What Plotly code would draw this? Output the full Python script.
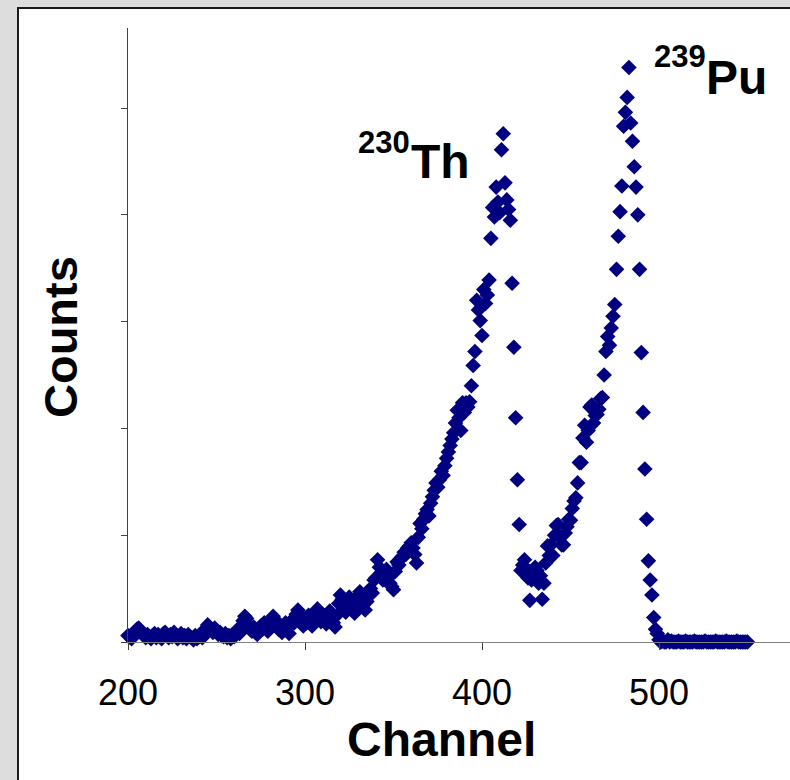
import plotly.graph_objects as go

# ---------------- data ----------------
channel_start = 200
counts = [
    6, 5, 3, 8, 10, 12, 13, 11, 9, 6,            # 200-209
    4, 7, 5, 3, 6, 8, 4, 7, 5, 3,                # 210-219
    8, 9, 6, 4, 7, 5, 9, 6, 3, 5,                # 220-229
    8, 4, 6, 3, 7, 5, 4, 2, 6, 3,                # 230-239
    5, 8, 4, 7, 12, 16, 14, 11, 9, 13,           # 240-249
    10, 7, 9, 6, 5, 8, 4, 6, 3, 7,               # 250-259
    5, 9, 12, 8, 15, 20, 24, 22, 16, 12,         # 260-269
    10, 14, 9, 7, 11, 15, 12, 18, 14, 10,        # 270-279
    16, 20, 24, 21, 17, 12, 15, 9, 13, 18,       # 280-289
    14, 8, 16, 21, 18, 26, 30, 24, 19, 15,       # 290-299
    22, 18, 25, 20, 15, 23, 28, 31, 24, 19,      # 300-309
    26, 21, 17, 24, 29, 22, 18, 14, 25, 36,      # 310-319
    44, 40, 33, 28, 35, 42, 38, 31, 27, 36,      # 320-329
    43, 47, 40, 35, 30, 38, 44, 50, 46, 58,      # 330-339
    60, 77, 70, 65, 58, 62, 68, 60, 55, 52,      # 340-349
    49, 66, 75, 72, 78, 80, 84, 82, 88, 90,      # 350-359
    93, 88, 82, 74, 98, 111, 106, 115, 120, 124, # 360-369
    118, 130, 136, 142, 149, 145, 152, 160, 156, 165,  # 370-379
    172, 178, 184, 190, 196, 205, 217, 210, 198, 224,  # 380-389
    215, 224, 220, 225, 240, 259, 272, 320, 311, 301,  # 390-399
    287, 330, 317, 325, 339, 378, 407, 398, 426, 412,  # 400-409
    402, 461, 476, 430, 414, 405, 395, 336, 276, 210,  # 410-419
    152, 110, 67, 72, 77, 67, 60, 39, 58, 64,          # 420-429
    70, 67, 55, 62, 40, 55, 74, 90, 81, 91,            # 430-439
    81, 100, 109, 110, 98, 91, 91, 102, 108, 115,      # 440-449
    114, 125, 132, 135, 149, 168, 168, 191, 203, 187,  # 450-459
    198, 220, 222, 205, 212, 213, 218, 228, 229, 250,  # 460-469
    272, 286, 278, 294, 305, 316, 349, 380, 403, 427,  # 470-479
    483, 496, 510, 538, 486, 469, 445, 426, 400, 349,  # 480-489
    271, 215, 162, 115, 76, 58, 44, 23, 12, 8,         # 490-499
    2, 0, 1, 0, 0, 2, 0, 1, 0, 0,                      # 500-509
    0, 1, 0, 0, 0, 1, 0, 0, 0, 0,                      # 510-519
    1, 0, 0, 0, 0, 0, 1, 0, 0, 0,                      # 520-529
    0, 0, 1, 0, 0, 0, 0, 0, 1, 0,                      # 530-539
    0, 0, 0, 0, 1, 0, 0, 0, 0, 0,                      # 540-549
    0,                                                 # 550
]
channels = list(range(channel_start, channel_start + len(counts)))

x_ticks = [200, 300, 400, 500]
y_ticks = [0, 100, 200, 300, 400, 500]
x_title = "Channel"
y_title = "Counts"
peak_labels = [("230", "Th"), ("239", "Pu")]

# ---------------- layout geometry ----------------
W, H = 790, 780
L, R, T, B = 128, 0, 28, 138
PW, PH = W - L - R, H - T - B


def pp(x, y):
    """pixel -> paper coords"""
    return (x - L) / PW, (H - B - y) / PH


FONT = "Liberation Sans, Arial, sans-serif"

fig = go.Figure(
    go.Scatter(
        x=channels,
        y=counts,
        mode="markers",
        marker=dict(symbol="diamond", size=12, color="#000080", line=dict(width=0)),
        cliponaxis=False,
        hoverinfo="skip",
    )
)

bx0, by0 = pp(18, 8)
bx1, by1 = pp(820, 820)

annotations = []


def ann(text, x, y, size, xanchor="left", angle=0):
    ax, ay = pp(x, y)
    annotations.append(dict(
        text=text, x=ax, y=ay, xref="paper", yref="paper",
        xanchor=xanchor, yanchor="middle", showarrow=False,
        textangle=angle, font=dict(family=FONT, size=size, color="black"),
    ))


ann("<b>%s</b>" % x_title, 441, 739, 48, xanchor="center")
ann("<b>%s</b>" % y_title, 60, 337, 47, xanchor="center", angle=-90)
ann("<b>%s</b>" % peak_labels[0][0], 356, 142, 31)
ann("<b>%s</b>" % peak_labels[0][1], 409, 161, 48)
ann("<b>%s</b>" % peak_labels[1][0], 652, 56, 31)
ann("<b>%s</b>" % peak_labels[1][1], 704, 77, 48)

fig.update_layout(
    width=W, height=H,
    margin=dict(l=L, r=R, t=T, b=B, pad=0),
    paper_bgcolor="#DDDDDD",
    plot_bgcolor="white",
    showlegend=False,
    shapes=[dict(type="rect", xref="paper", yref="paper",
                 x0=bx0, y0=by0, x1=bx1, y1=by1,
                 fillcolor="white", line=dict(color="#1a1a1a", width=2),
                 layer="below")],
    annotations=annotations,
    xaxis=dict(
        range=[200, 574], tickvals=x_ticks, ticktext=[str(v) for v in x_ticks],
        showline=True, linecolor="#808080", linewidth=1,
        ticks="outside", ticklen=7, tickcolor="#404040", tickwidth=1,
        ticklabelstandoff=12,
        tickfont=dict(family=FONT, size=36, color="black"),
        showgrid=False, zeroline=False,
    ),
    yaxis=dict(
        range=[0, 575], tickvals=y_ticks, showticklabels=False,
        showline=True, linecolor="#404040", linewidth=1,
        ticks="outside", ticklen=6, tickcolor="#404040", tickwidth=1,
        showgrid=False, zeroline=False,
    ),
)

fig.write_html("out.html")
